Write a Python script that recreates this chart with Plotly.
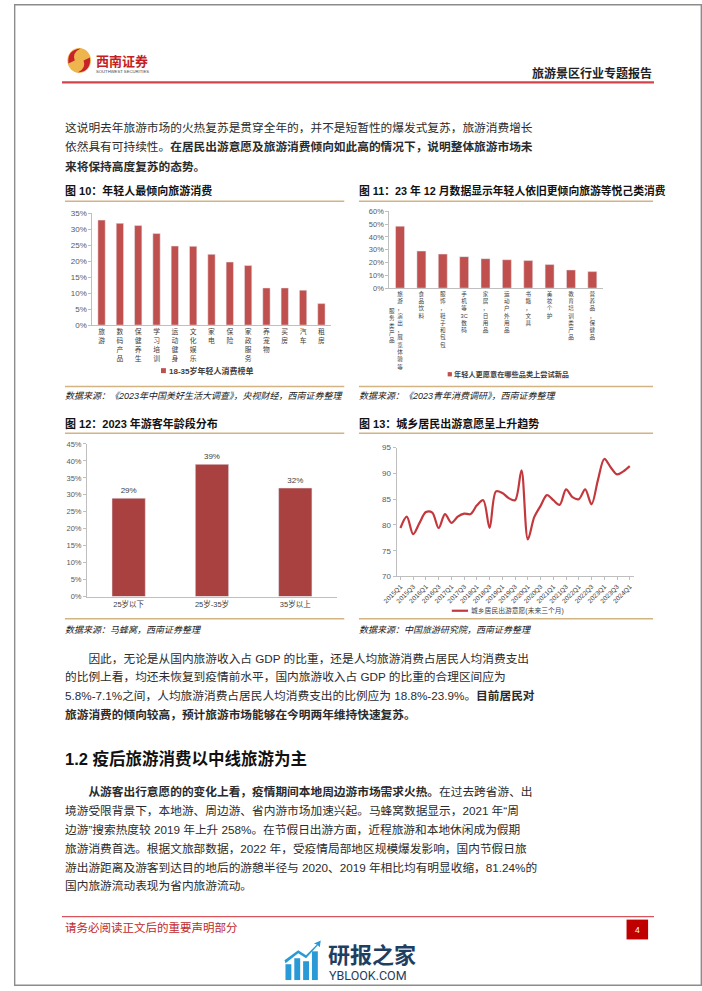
import plotly.graph_objects as go

W, H = 702, 991
def X(p): return p / W
def Y(p): return 1 - p / H

TXT = "Liberation Sans, Noto Sans CJK SC"
CJK = "Noto Sans CJK SC"

# ---------------- data ----------------
fig10_categories = ["旅游", "数码产品", "保健养生", "学习培训", "运动健身", "文化娱乐", "家电",
                    "保险", "家政服务", "养宠物", "买房", "汽车", "租房"]
fig10_values = [32.8, 31.8, 31.1, 28.6, 24.7, 24.6, 22.1, 19.7, 18.6, 11.6, 11.6, 10.9, 6.7]
fig10_series = "18-35岁年轻人消费榜单"

fig11_categories = ["旅游，演出，展览体验等服务类产品", "食品饮料", "服饰，鞋子和包包", "手机等3C数码",
                    "家居，日用品", "运动户外用品", "书籍，文具", "美妆个护", "教育培训类产品", "营养品，保健品"]
fig11_values = [48.4, 29.0, 26.6, 24.6, 23.0, 22.2, 21.5, 18.4, 14.2, 12.9]
fig11_series = "年轻人更愿意在哪些品类上尝试新品"

fig12_categories = ["25岁以下", "25岁-35岁", "35岁以上"]
fig12_values = [29, 39, 32]

fig13_quarters = ["2015Q1", "2015Q2", "2015Q3", "2015Q4", "2016Q1", "2016Q2", "2016Q3", "2016Q4",
                  "2017Q1", "2017Q2", "2017Q3", "2017Q4", "2018Q1", "2018Q2", "2018Q3", "2018Q4",
                  "2019Q1", "2019Q2", "2019Q3", "2019Q4", "2020Q1", "2020Q2", "2020Q3", "2020Q4",
                  "2021Q1", "2021Q2", "2021Q3", "2021Q4", "2022Q1", "2022Q2", "2022Q3", "2022Q4",
                  "2023Q1", "2023Q2", "2023Q3", "2023Q4", "2024Q1"]
fig13_values = [79.4, 81.6, 78.2, 80.4, 82.5, 82.4, 79.4, 82.1, 80.4, 81.6, 82.2, 82.1, 83.8, 84.8,
                79.4, 86.5, 86.2, 85.2, 84.8, 90.6, 77.2, 81.5, 83.7, 85.8, 84.8, 83.9, 86.9, 85.4,
                85.0, 86.9, 84.0, 88.7, 92.8, 91.2, 89.8, 90.4, 91.4]
fig13_series = "城乡居民出游意愿(未来三个月)"

RED = "#C0504D"
GOLD = "#D2B482"
AX = "#BFBFBF"
TICK = "#595959"


def stack(s):
    out, buf = [], ""
    for ch in s:
        if ch.isascii() and ch.isalnum():
            buf += ch
        else:
            if buf:
                out.append(buf); buf = ""
            out.append(ch)
    if buf:
        out.append(buf)
    return "<br>".join(out)


fig = go.Figure()

fig.add_trace(go.Bar(x=fig10_categories, y=fig10_values, marker_color=RED, width=0.4,
                     xaxis="x", yaxis="y", showlegend=False, name=fig10_series))
fig.add_trace(go.Bar(x=fig11_categories, y=fig11_values, marker_color=RED, width=0.42,
                     xaxis="x2", yaxis="y2", showlegend=False, name=fig11_series))
fig.add_trace(go.Bar(x=fig12_categories, y=fig12_values, marker_color="#A94140", width=0.4,
                     text=[f"{v}%" for v in fig12_values], textposition="outside",
                     textfont=dict(size=8, color="#404040", family=TXT), cliponaxis=False,
                     xaxis="x3", yaxis="y3", showlegend=False))
fig.add_trace(go.Scatter(x=fig13_quarters, y=fig13_values, mode="lines",
                         line=dict(color="#C3383C", width=2.2, shape="spline", smoothing=0.9),
                         xaxis="x4", yaxis="y4", showlegend=False, name=fig13_series))

base = dict(showgrid=False, zeroline=False, showline=True, linecolor=AX, linewidth=1,
            tickfont=dict(family=TXT, size=8, color=TICK), fixedrange=True)

fig11_ticks = [stack(c[:11]) if i == 0 else stack(c) for i, c in enumerate(fig11_categories)]

fig.update_layout(
    width=W, height=H, margin=dict(l=0, r=0, t=0, b=0),
    paper_bgcolor="white", plot_bgcolor="white", showlegend=False,
    xaxis=dict(base, domain=[X(80), X(323)], anchor="y", type="category", range=[-0.5, 12.5],
               tickvals=fig10_categories, ticktext=[stack(c) for c in fig10_categories],
               ticks="", tickfont=dict(family=TXT, size=6.8, color="#404040")),
    yaxis=dict(base, domain=[Y(324), Y(211)], anchor="x", range=[0, 35], dtick=5, ticksuffix="%",
               ticks="outside", ticklen=3, tickcolor=AX),
    xaxis2=dict(base, domain=[X(383), X(601)], anchor="y2", type="category", range=[-0.5, 9.5],
                tickvals=fig11_categories, ticktext=fig11_ticks, ticks="",
                tickfont=dict(family=TXT, size=5.6, color="#404040")),
    yaxis2=dict(base, domain=[Y(286.7), Y(209.3)], anchor="x2", range=[0, 60], dtick=10, ticksuffix="%",
                ticks="outside", ticklen=3, tickcolor=AX, tickfont=dict(family=TXT, size=7.5, color=TICK)),
    xaxis3=dict(base, domain=[X(74.5), X(329.5)], anchor="y3", type="category", range=[-0.5, 2.5],
                ticks="", tickfont=dict(family=TXT, size=7.5, color="#404040")),
    yaxis3=dict(base, domain=[Y(598), Y(444)], anchor="x3", range=[0, 45], dtick=5, ticksuffix="%",
                ticks="outside", ticklen=3, tickcolor=AX, tickfont=dict(family=TXT, size=7.5, color=TICK)),
    xaxis4=dict(base, domain=[X(390.4), X(632.2)], anchor="y4", type="category", range=[-0.6, 36.6],
                tickvals=fig13_quarters[::2], ticktext=fig13_quarters[::2], tickangle=-45,
                ticks="outside", ticklen=3, tickcolor=AX,
                tickfont=dict(family=TXT, size=6.5, color="#404040")),
    yaxis4=dict(base, domain=[Y(577.7), Y(447.7)], anchor="x4", range=[70, 95], dtick=5,
                ticks="outside", ticklen=3, tickcolor=AX, tickfont=dict(family=TXT, size=8, color=TICK)),
)

shapes = []
def hline(x0, x1, y, color, w):
    shapes.append(dict(type="line", xref="paper", yref="paper", x0=X(x0), x1=X(x1), y0=Y(y), y1=Y(y),
                       line=dict(color=color, width=w)))
def rect(x0, y0, x1, y1, fill):
    shapes.append(dict(type="rect", xref="paper", yref="paper", x0=X(x0), x1=X(x1), y0=Y(y1), y1=Y(y0),
                       fillcolor=fill, line=dict(color=fill, width=0)))
def path(cmds, fill):
    s = ""
    for c in cmds:
        if isinstance(c, str):
            s += c + " "
        else:
            s += f"{X(c[0]):.5f},{Y(c[1]):.5f} "
    shapes.append(dict(type="path", xref="paper", yref="paper", path=s.strip(), fillcolor=fill,
                       line=dict(width=0)))

# page border
shapes.append(dict(type="rect", xref="paper", yref="paper", x0=X(0.7), x1=X(701.3), y0=Y(990.3), y1=Y(0.7),
                   line=dict(color="#8C8C8C", width=1.4), fillcolor="rgba(0,0,0,0)"))

# header logo + rule
shapes.append(dict(type="circle", xref="paper", yref="paper", x0=X(54.5), x1=X(78.5), y0=Y(69.5), y1=Y(44.5),
                   fillcolor="#EDB54C", line=dict(width=0)))
path(["M", (55.5, 60), "Q", (54, 46), (68, 44.8), "Q", (59, 49), (62, 57), "Z"], "#C8232B")
path(["M", (77.5, 54), "Q", (79, 68), (65, 69.2), "Q", (74, 65), (71, 57), "Z"], "#C8232B")
hline(49, 653, 79, "#D3434B", 2.2)

# chart frames (gold rules)
for (a, b) in [(52, 337), (352, 652)]:
    hline(a, b, 199, GOLD, 1.5)
    hline(a, b, 386, GOLD, 1.5)
    hline(a, b, 433.3, GOLD, 1.5)
    hline(a, b, 620.5, GOLD, 1.5)

# legend swatches
rect(150, 367.5, 155, 372.5, RED)
rect(442.5, 371.5, 446.8, 375.8, RED)
shapes.append(dict(type="line", xref="paper", yref="paper", x0=X(446.7), x1=X(463.3), y0=Y(612.3), y1=Y(612.3),
                   line=dict(color="#C3383C", width=2.2)))

# footer
hline(49, 653, 921, "#D9535A", 1.4)
rect(625, 924, 647, 944, "#C00000")

# watermark icon
WM = "#2A9AD6"
rect(277, 969, 283, 985, WM)
rect(286, 963, 292, 985, WM)
rect(295, 966, 301, 985, WM)
rect(304, 956, 310, 985, WM)
path(["M", (276, 965), "L", (290, 955), "L", (298, 960), "L", (309, 949), "L", (306, 948), "L", (313, 945),
      "L", (312, 952), "L", (310, 950), "L", (298, 963), "L", (290, 958), "L", (277, 968), "Z"], WM)

fig.update_layout(shapes=shapes)


def text(x, y, s, size, color="#2B2B2B", family=TXT, xanchor="left", yanchor="middle"):
    fig.add_annotation(x=X(x), y=Y(y), xref="paper", yref="paper", text=s, showarrow=False,
                       xanchor=xanchor, yanchor=yanchor, align="left", borderpad=0,
                       font=dict(size=size, color=color, family=family))

# header text
text(83, 57.5, "<b>西南证券</b>", 13, "#C41E24", CJK)
text(83, 68.5, "SOUTHWEST SECURITIES", 4.2, "#444444", TXT)
text(652, 69, "<b>旅游景区行业专题报告</b>", 12, "#222222", CJK, xanchor="right")

BODY = 11.7
para1 = [
    "这说明去年旅游市场的火热复苏是贯穿全年的，并不是短暂性的爆发式复苏，旅游消费增长",
    "依然具有可持续性。<b>在居民出游意愿及旅游消费倾向如此高的情况下，说明整体旅游市场未</b>",
    "<b>来将保持高度复苏的态势。</b>",
]
for i, ln in enumerate(para1):
    text(51, 125 + i * 19.3, ln, BODY)

# chart titles
text(51, 188.3, "<b>图 10：年轻人最倾向旅游消费</b>", 11, "#111111")
text(351, 188.3, "<b>图 11：23 年 12 月数据显示年轻人依旧更倾向旅游等悦己类消费</b>", 10.8, "#111111")
text(51, 423.3, "<b>图 12：2023 年游客年龄段分布</b>", 11, "#111111")
text(351, 423.3, "<b>图 13：城乡居民出游意愿呈上升趋势</b>", 11, "#111111")

# legend texts
text(157, 370, "<b>" + fig10_series + "</b>", 8, "#404040")
text(448, 373.6, "<b>" + fig11_series + "</b>", 7.2, "#404040")
text(465, 612.3, fig13_series, 6.8, "#404040")

# second column of the first fig11 label
fig.add_annotation(x=fig11_categories[0], xref="x2", y=Y(325), yref="paper", xshift=-8,
                   text=stack(fig11_categories[0][11:]), showarrow=False, xanchor="center",
                   yanchor="middle", font=dict(size=5.6, color="#404040", family=TXT))

# sources
SRC = 9
text(51, 396, "<i>数据来源：《2023年中国美好生活大调查》，央视财经，西南证券整理</i>", SRC, "#222222")
text(351, 396, "<i>数据来源：《2023青年消费调研》，西南证券整理</i>", SRC, "#222222")
text(51, 632, "<i>数据来源：马蜂窝，西南证券整理</i>", SRC, "#222222")
text(351, 632, "<i>数据来源：中国旅游研究院，西南证券整理</i>", SRC, "#222222")

para2 = [
    "　　因此，无论是从国内旅游收入占 GDP 的比重，还是人均旅游消费占居民人均消费支出",
    "的比例上看，均还未恢复到疫情前水平，国内旅游收入占 GDP 的比重的合理区间应为",
    "5.8%-7.1%之间，人均旅游消费占居民人均消费支出的比例应为 18.8%-23.9%。<b>目前居民对</b>",
    "<b>旅游消费的倾向较高，预计旅游市场能够在今明两年维持快速复苏。</b>",
]
for i, ln in enumerate(para2):
    text(51, 660 + i * 19, ln, BODY)

text(51, 761, "<b>1.2 疫后旅游消费以中线旅游为主</b>", 16.5, "#111111")

para3 = [
    "　　<b>从游客出行意愿的的变化上看，疫情期间本地周边游市场需求火热。</b>在过去跨省游、出",
    "境游受限背景下，本地游、周边游、省内游市场加速兴起。马蜂窝数据显示，2021 年“周",
    "边游”搜索热度较 2019 年上升 258%。在节假日出游方面，近程旅游和本地休闲成为假期",
    "旅游消费首选。根据文旅部数据，2022 年，受疫情局部地区规模爆发影响，国内节假日旅",
    "游出游距离及游客到达目的地后的游憩半径与 2020、2019 年相比均有明显收缩，81.24%的",
    "国内旅游流动表现为省内旅游流动。",
]
for i, ln in enumerate(para3):
    text(51, 795 + i * 19, ln, BODY)

# footer texts
text(51, 931, "请务必阅读正文后的重要声明部分", 11.5, "#C0282D", CJK)
text(636, 934, "4", 8.5, "white", TXT, xanchor="center")
text(319, 958, "<b>研报之家</b>", 22, "#1E3E62", CJK)
text(320, 980.5, "YBLOOK.COM", 12.5, "#1E3E62", "Roboto, Liberation Sans")

fig.write_html("out.html", config={"displayModeBar": False, "staticPlot": True},
               post_script="document.body.style.margin='0';document.body.style.overflow='hidden';")
